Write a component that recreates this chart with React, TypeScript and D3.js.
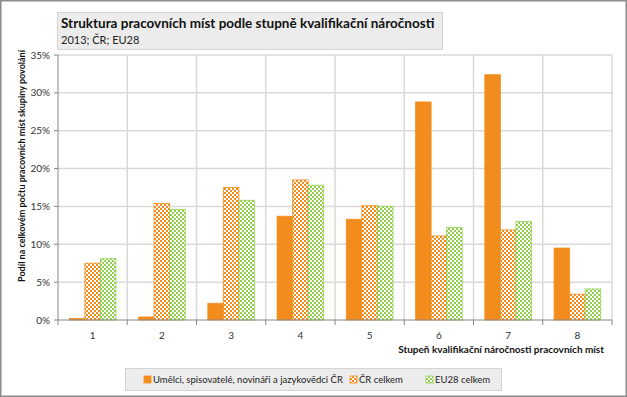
import * as d3 from "d3";
import React, { useRef, useEffect } from "react";

const categories = ["1", "2", "3", "4", "5", "6", "7", "8"];
const seriesNames = [
  "Umělci, spisovatelé, novináři a jazykovědci ČR",
  "ČR celkem",
  "EU28 celkem",
];
const umelci = [0.2, 0.4, 2.2, 13.7, 13.3, 28.8, 32.4, 9.5];
const crCelkem = [7.5, 15.4, 17.5, 18.5, 15.1, 11.1, 11.9, 3.4];
const eu28Celkem = [8.1, 14.6, 15.8, 17.8, 15.0, 12.2, 13.0, 4.1];
const yTicks = [0, 5, 10, 15, 20, 25, 30, 35];

const ORANGE = "#F28C1C";
const GREEN = "#92D050";
const FONT = "Lato, 'Open Sans', sans-serif";

export default function App() {
  const svgRef = useRef<SVGSVGElement>(null);

  useEffect(() => {
    document.body.style.margin = "0";
    const W = 627;
    const H = 397;
    const m = { left: 58, right: 15, top: 55, bottom: 77 };
    const svg = d3.select(svgRef.current);
    svg.selectAll("*").remove();
    svg.attr("width", W).attr("height", H).style("display", "block");

    const defs = svg.append("defs");
    const mkPattern = (id: string, color: string) => {
      const p = defs
        .append("pattern")
        .attr("id", id)
        .attr("patternUnits", "userSpaceOnUse")
        .attr("width", 4)
        .attr("height", 4);
      p.append("rect").attr("width", 4).attr("height", 4).attr("fill", "#fff");
      p.append("rect").attr("width", 2).attr("height", 2).attr("fill", color);
      p.append("rect").attr("x", 2).attr("y", 2).attr("width", 2).attr("height", 2).attr("fill", color);
    };
    mkPattern("patOrange", ORANGE);
    mkPattern("patGreen", GREEN);

    svg
      .append("rect")
      .attr("x", 0.75)
      .attr("y", 0.75)
      .attr("width", W - 1.5)
      .attr("height", H - 1.5)
      .attr("fill", "#fff")
      .attr("stroke", "#8c8c8c")
      .attr("stroke-width", 1.5);

    const x = d3
      .scaleBand()
      .domain(categories)
      .range([m.left, W - m.right]);
    const x1 = d3
      .scaleBand()
      .domain(["0", "1", "2"])
      .range([0, x.bandwidth()])
      .paddingOuter(0.73)
      .paddingInner(0);
    const y = d3.scaleLinear().domain([0, 35]).range([H - m.bottom, m.top]);

    const g = svg.append("g");

    // gridlines
    g.selectAll("line.hgrid")
      .data(yTicks.slice(1))
      .enter()
      .append("line")
      .attr("x1", m.left)
      .attr("x2", W - m.right)
      .attr("y1", (d) => y(d))
      .attr("y2", (d) => y(d))
      .attr("stroke", "#d9d9d9")
      .attr("stroke-width", 1.5);
    g.selectAll("line.vgrid")
      .data(categories.slice(1).concat(["end"]))
      .enter()
      .append("line")
      .attr("x1", (d, i) => m.left + (i + 1) * x.bandwidth())
      .attr("x2", (d, i) => m.left + (i + 1) * x.bandwidth())
      .attr("y1", m.top)
      .attr("y2", H - m.bottom)
      .attr("stroke", "#d9d9d9")
      .attr("stroke-width", 1.5);

    // bars
    const series = [
      { vals: umelci, fill: ORANGE, stroke: ORANGE },
      { vals: crCelkem, fill: "url(#patOrange)", stroke: ORANGE },
      { vals: eu28Celkem, fill: "url(#patGreen)", stroke: GREEN },
    ];
    series.forEach((s, si) => {
      g.selectAll(`rect.s${si}`)
        .data(s.vals)
        .enter()
        .append("rect")
        .attr("x", (d, i) => (x(categories[i]) as number) + (x1(String(si)) as number))
        .attr("y", (d) => y(d))
        .attr("width", x1.bandwidth())
        .attr("height", (d) => y(0) - y(d))
        .attr("fill", s.fill)
        .attr("stroke", s.stroke)
        .attr("stroke-width", 1)
        .attr("stroke-opacity", 0.8);
    });

    // axes
    const axisColor = "#868686";
    g.append("line")
      .attr("x1", m.left)
      .attr("x2", m.left)
      .attr("y1", m.top)
      .attr("y2", y(0))
      .attr("stroke", axisColor);
    g.append("line")
      .attr("x1", m.left)
      .attr("x2", W - m.right)
      .attr("y1", y(0))
      .attr("y2", y(0))
      .attr("stroke", axisColor);
    g.selectAll("line.ytick")
      .data(yTicks)
      .enter()
      .append("line")
      .attr("x1", m.left - 4)
      .attr("x2", m.left)
      .attr("y1", (d) => y(d))
      .attr("y2", (d) => y(d))
      .attr("stroke", axisColor);
    g.selectAll("text.ylab")
      .data(yTicks)
      .enter()
      .append("text")
      .attr("x", m.left - 8)
      .attr("y", (d) => y(d) + 3.5)
      .attr("text-anchor", "end")
      .attr("font-family", FONT)
      .attr("font-size", 10)
      .attr("fill", "#333")
      .text((d) => `${d}%`);
    g.selectAll("line.xtick")
      .data(d3.range(categories.length + 1))
      .enter()
      .append("line")
      .attr("x1", (d) => m.left + d * x.bandwidth())
      .attr("x2", (d) => m.left + d * x.bandwidth())
      .attr("y1", y(0))
      .attr("y2", y(0) + 5)
      .attr("stroke", axisColor);
    g.selectAll("text.xlab")
      .data(categories)
      .enter()
      .append("text")
      .attr("x", (d) => (x(d) as number) + x.bandwidth() / 2)
      .attr("y", y(0) + 19)
      .attr("text-anchor", "middle")
      .attr("font-family", FONT)
      .attr("font-size", 10)
      .attr("fill", "#333")
      .text((d) => d);

    // axis titles
    svg
      .append("text")
      .attr("transform", `translate(25,166) rotate(-90)`)
      .attr("text-anchor", "middle")
      .attr("font-family", FONT)
      .attr("font-size", 9)
      .attr("font-weight", "bold")
      .attr("fill", "#111")
      .text("Podíl na celkovém počtu pracovních míst skupiny povolání");
    svg
      .append("text")
      .attr("x", 604)
      .attr("y", 353)
      .attr("text-anchor", "end")
      .attr("font-family", FONT)
      .attr("font-size", 10)
      .attr("font-weight", "bold")
      .attr("fill", "#111")
      .text("Stupeň kvalifikační náročnosti pracovních míst");

    // title box
    svg
      .append("rect")
      .attr("x", 57.5)
      .attr("y", 12.5)
      .attr("width", 385)
      .attr("height", 37)
      .attr("fill", "#ececec")
      .attr("stroke", "#d4d4d4");
    svg
      .append("text")
      .attr("x", 61)
      .attr("y", 28)
      .attr("font-family", FONT)
      .attr("font-size", 13.5)
      .attr("font-weight", "bold")
      .attr("fill", "#111")
      .text("Struktura pracovních míst podle stupně kvalifikační náročnosti");
    svg
      .append("text")
      .attr("x", 61)
      .attr("y", 44)
      .attr("font-family", FONT)
      .attr("font-size", 11)
      .attr("fill", "#222")
      .text("2013; ČR; EU28");

    // legend
    svg
      .append("rect")
      .attr("x", 125.5)
      .attr("y", 368.5)
      .attr("width", 376)
      .attr("height", 22)
      .attr("fill", "#ececec")
      .attr("stroke", "#d4d4d4");
    const legendX = [144, 350, 426];
    seriesNames.forEach((name, i) => {
      const s = series[i];
      svg
        .append("rect")
        .attr("x", legendX[i])
        .attr("y", 376)
        .attr("width", 7)
        .attr("height", 7)
        .attr("fill", s.fill)
        .attr("stroke", s.stroke)
        .attr("stroke-width", 0.8);
      svg
        .append("text")
        .attr("x", legendX[i] + 9)
        .attr("y", 383)
        .attr("font-family", FONT)
        .attr("font-size", 9.5)
        .attr("fill", "#222")
        .text(name);
    });
  }, []);

  return <svg ref={svgRef}></svg>;
}
